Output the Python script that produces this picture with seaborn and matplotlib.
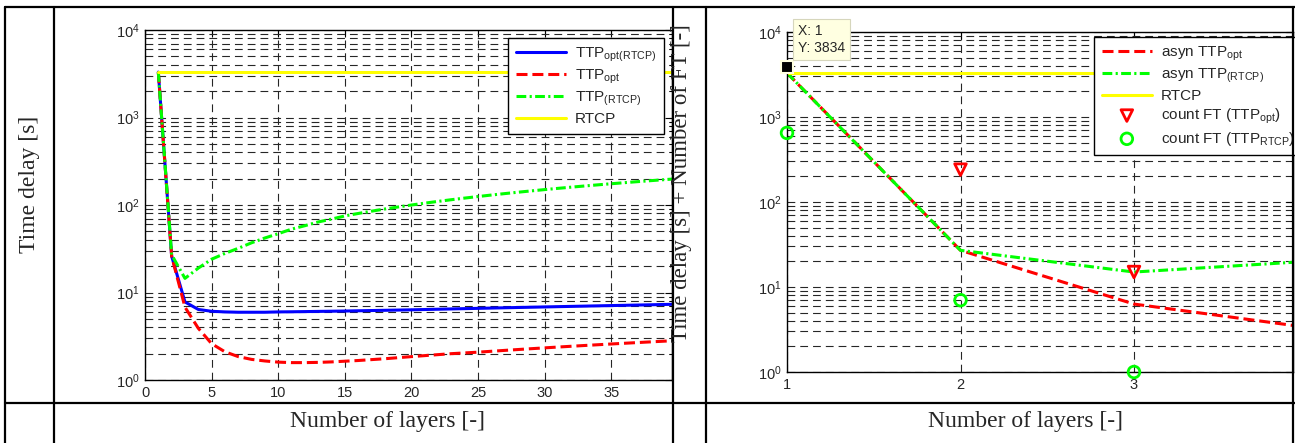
import numpy as np
import pandas as pd
import matplotlib
matplotlib.use("Agg")
import matplotlib.pyplot as plt
from matplotlib.lines import Line2D
from matplotlib.ticker import LogLocator, NullFormatter, FixedLocator
import seaborn as sns

# ---- left panel: time delay vs number of layers ----
layers = list(range(1, 41))
ttp_opt_rtcp = [3300, 26, 7.8, 6.4, 6.1, 6.0, 5.95, 5.95, 5.95, 6.0,
                6.02, 6.05, 6.08, 6.11, 6.14, 6.18, 6.22, 6.26, 6.3, 6.34,
                6.39, 6.44, 6.49, 6.54, 6.59, 6.64, 6.69, 6.74, 6.79, 6.84,
                6.89, 6.94, 6.99, 7.04, 7.09, 7.14, 7.19, 7.24, 7.3, 7.35]
ttp_opt = [3300, 26, 6.8, 3.9, 2.6, 2.1, 1.85, 1.72, 1.65, 1.6,
           1.58, 1.58, 1.59, 1.61, 1.64, 1.67, 1.71, 1.75, 1.8, 1.85,
           1.9, 1.95, 2.0, 2.04, 2.08, 2.13, 2.18, 2.23, 2.28, 2.33,
           2.38, 2.43, 2.48, 2.53, 2.58, 2.63, 2.68, 2.73, 2.78, 2.83]
ttp_rtcp = [3300, 27, 14.5, 19, 24, 28, 32, 37, 42, 47,
            53, 58, 64, 69, 75, 80, 85, 90, 95, 100,
            105, 110, 115, 120, 125, 130, 135, 140, 145, 150,
            155, 160, 165, 170, 175, 180, 185, 190, 195, 200]
rtcp_layers = [1, 40]
rtcp_delay = [3300, 3300]

# ---- right panel: asynchronous case ----
layers_r = [1, 2, 3, 4]
asyn_ttp_opt = [3300, 27, 6.3, 3.35]
asyn_ttp_rtcp = [3300, 27, 15, 20]
rtcp_r = [3300, 3300, 3300, 3300]
ft_opt_layers = [2, 3]
ft_opt_count = [240, 15]
ft_rtcp_layers = [1, 2, 3]
ft_rtcp_count = [650, 7, 1]
tip_x, tip_y = 1, 3834

W, H = 1295, 443

sns.set_style("white")
plt.rcParams['font.family'] = ['Liberation Sans', 'DejaVu Sans']
plt.rcParams['mathtext.default'] = 'regular'

fig = plt.figure(figsize=(W / 100, H / 100), dpi=100)

def rect(x0, y0, x1, y1):
    return [x0 / W, 1 - y1 / H, (x1 - x0) / W, (y1 - y0) / H]

ax1 = fig.add_axes(rect(145, 30, 672, 380))
ax2 = fig.add_axes(rect(787, 32, 1293, 372))

dash = (0, (3.6, 1.6))
dashdot = (0, (3.2, 1.1, 0.7, 1.1))
lw = 2.2

sns.lineplot(x=layers, y=ttp_opt_rtcp, ax=ax1, color='#0000ff', lw=lw,
             label='TTP$_{opt(RTCP)}$')
sns.lineplot(x=layers, y=ttp_opt, ax=ax1, color='#ff0000', lw=lw,
             linestyle=dash, label='TTP$_{opt}$')
sns.lineplot(x=layers, y=ttp_rtcp, ax=ax1, color='#00ff00', lw=lw,
             linestyle=dashdot, label='TTP$_{(RTCP)}$')
sns.lineplot(x=rtcp_layers, y=rtcp_delay, ax=ax1, color='#ffff00', lw=lw,
             label='RTCP')

sns.lineplot(x=layers_r, y=asyn_ttp_opt, ax=ax2, color='#ff0000', lw=lw,
             linestyle=dash, label='asyn TTP$_{opt}$')
sns.lineplot(x=layers_r, y=asyn_ttp_rtcp, ax=ax2, color='#00ff00', lw=lw,
             linestyle=dashdot, label='asyn TTP$_{(RTCP)}$')
sns.lineplot(x=layers_r, y=rtcp_r, ax=ax2, color='#ffff00', lw=lw,
             label='RTCP')
sns.scatterplot(x=ft_opt_layers, y=ft_opt_count, ax=ax2, marker='v', s=70,
                facecolor='none', edgecolor='#ff0000', linewidth=2, color='#ff0000',
                label='count FT (TTP$_{opt}$)', clip_on=False, zorder=5)
sns.scatterplot(x=ft_rtcp_layers, y=ft_rtcp_count, ax=ax2, marker='o', s=70,
                facecolor='none', edgecolor='#00ff00', linewidth=2, color='#00ff00',
                label='count FT (TTP$_{RTCP}$)', clip_on=False, zorder=5)

grid_kw = dict(color='0.15', lw=0.8, linestyle=(0, (7, 4.5)))
for ax in (ax1, ax2):
    ax.set_yscale('log')
    ax.set_ylim(1, 1e4)
    ax.yaxis.set_major_locator(LogLocator(base=10, numticks=10))
    ax.yaxis.set_minor_locator(LogLocator(base=10, subs=np.arange(2, 10), numticks=10))
    ax.yaxis.set_minor_formatter(NullFormatter())
    ax.grid(which='both', axis='y', **grid_kw)
    ax.grid(which='major', axis='x', **grid_kw)
    ax.tick_params(which='both', direction='in', top=True, right=True,
                   labelsize=10.5, color='k', pad=4)
    ax.tick_params(which='major', length=5)
    ax.tick_params(which='minor', length=2.5)
    for s in ax.spines.values():
        s.set_color('k')
        s.set_linewidth(1.0)
    ax.set_xlabel('')
    ax.set_ylabel('')

ax1.set_xlim(0, 39.55)
ax1.xaxis.set_major_locator(FixedLocator([0, 5, 10, 15, 20, 25, 30, 35]))
ax2.set_xlim(1, 1 + 506 / 173.5)
ax2.xaxis.set_major_locator(FixedLocator([1, 2, 3]))

leg_kw = dict(frameon=True, fancybox=False, framealpha=1, edgecolor='k',
              borderaxespad=0, handlelength=3.3, handletextpad=0.6,
              borderpad=0.5, labelspacing=0.25, fontsize=11, scatterpoints=1)
l1 = ax1.legend(loc='upper left', bbox_to_anchor=((508 - 145) / 527, (380 - 38) / 350),
                **leg_kw)
l2 = ax2.legend(loc='upper left', bbox_to_anchor=((1094 - 787) / 506, (372 - 37) / 340),
                **leg_kw)
for l in (l1, l2):
    l.get_frame().set_linewidth(1.0)

# data cursor on the right panel
ax2.plot([tip_x], [tip_y], marker='s', ms=8, color='k', mec='#ffffe0', mew=1.5,
         clip_on=False, zorder=10)
ax2.annotate(f"X: {tip_x}\nY: {tip_y}", xy=(tip_x, tip_y), xytext=(11, 12),
             textcoords='offset pixels', ha='left', va='bottom', fontsize=10,
             linespacing=1.3, annotation_clip=False, zorder=11,
             bbox=dict(boxstyle='square,pad=0.35', fc='#ffffe1', ec='#d6d6bc', lw=0.8))

# table frame of the document
line_kw = dict(color='k', lw=1.6, transform=fig.transFigure)
for y in (7, 403):
    fig.add_artist(Line2D([5 / W, 1], [1 - y / H, 1 - y / H], **line_kw))
for x in (5, 54, 673, 706, 1293):
    fig.add_artist(Line2D([x / W, x / W], [1 - 7 / H, 0], **line_kw))

serif = ['Liberation Serif', 'DejaVu Serif']
fig.text(30 / W, 1 - 184 / H, 'Time delay [s]', rotation=90, ha='center', va='center',
         fontsize=17, family=serif)
fig.text(682 / W, 1 - 183 / H, 'Time delay [s] + Number of FT [-]', rotation=90,
         ha='center', va='center', fontsize=16.5, family=serif)
fig.text(388 / W, 1 - 422 / H, 'Number of layers [-]', ha='center', va='center',
         fontsize=17, family=serif)
fig.text(1026 / W, 1 - 422 / H, 'Number of layers [-]', ha='center', va='center',
         fontsize=17, family=serif)

fig.savefig('out.png', dpi=100)
